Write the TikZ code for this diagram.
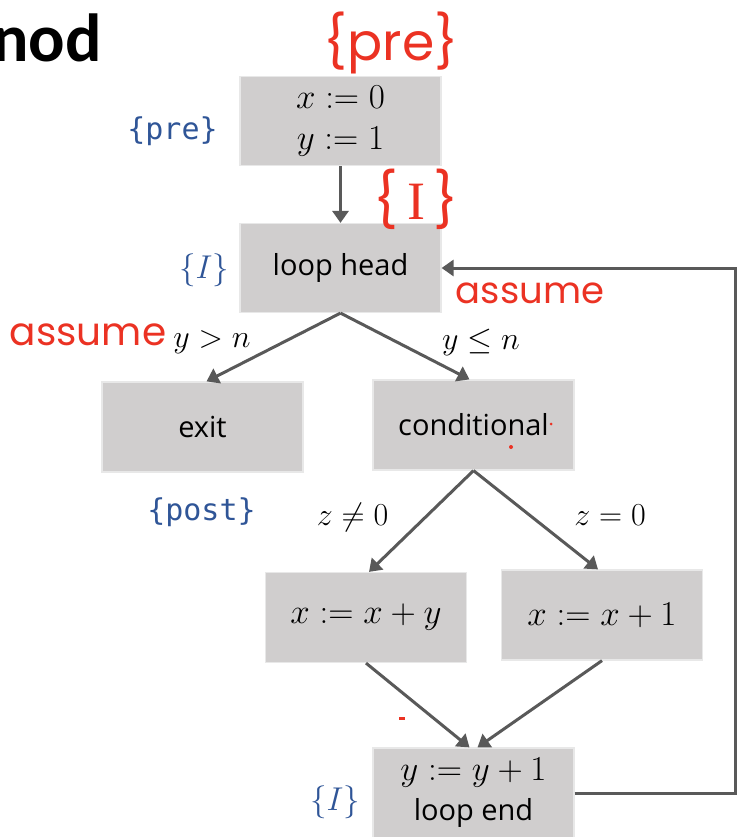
\RequirePackage{fix-cm}
\documentclass[tikz,border=0pt]{standalone}
\usepackage[no-math]{fontspec}
\setmainfont{Open Sans}
\newfontfamily\titlefont{Carlito}
\newfontfamily\monofont{DejaVu Sans Mono}
\newfontfamily\handfont{Poppins}
\newfontfamily\handserif{Liberation Serif}
\usetikzlibrary{arrows.meta,calc}
\definecolor{boxgray}{RGB}{208,206,206}
\definecolor{boxedge}{RGB}{232,232,232}
\definecolor{arrowgray}{RGB}{89,89,89}
\definecolor{annblue}{RGB}{47,85,151}
\definecolor{inkred}{RGB}{235,50,35}
\begin{document}
\begin{tikzpicture}[x=1pt,y=-1pt,
  blk/.style={fill=boxgray, draw=boxedge, line width=1.2pt, minimum width=201pt,
    minimum height=89pt, inner sep=0pt, align=center,
    font=\fontsize{29}{40}\selectfont},
  flow/.style={draw=arrowgray, line width=3pt, line join=miter,
    -{Triangle[length=12pt,width=16pt]}},
  mlabel/.style={inner sep=0pt, font=\fontsize{32}{38}\selectfont},
  bluelbl/.style={inner sep=0pt, text=annblue, font=\fontsize{33}{38}\selectfont},
  bluemono/.style={inner sep=0pt, text=annblue, font=\monofont\fontsize{30}{36}\selectfont},
  ink/.style={inner sep=0pt, text=inkred},
]
\useasboundingbox (0,0) rectangle (737,837);

% title fragment
\node[anchor=base east, inner sep=0pt, font=\titlefont\bfseries\fontsize{68}{80}\selectfont] (title) at (102,62) {nod};

% boxes
\node[blk, font=\fontsize{35}{41}\selectfont] (init) at (340.5,121) {$x \mathrel{:}= 0$\\$y \mathrel{:}= 1$};
\node[blk] (lh) at (340.5,268) {loop head};
\node[blk, minimum height=90pt] (exit) at (202.5,427) {exit};
\node[blk, minimum height=90pt] (cond) at (473.5,425) {conditional};
\node[blk, minimum height=90pt, font=\fontsize{35}{40}\selectfont] (xy) at (366,617.5) {$x \mathrel{:}= x + y$};
\node[blk, minimum height=90pt, font=\fontsize{35}{40}\selectfont] (x1) at (602,615) {$x \mathrel{:}= x + 1$};
\node[blk, minimum height=90pt, font=\fontsize{29}{40}\selectfont] (le) at (473.5,793) {\fontsize{35}{40}\selectfont$y \mathrel{:}= y + 1$\\loop end};

% connectors
\draw[flow] (init.south) -- (lh.north);
\draw[flow] (lh.south) -- ($(exit.north)+(4,0)$);
\draw[flow] (lh.south) -- ($(cond.north)+(-4,0)$);
\draw[flow] (cond.south) -- ($(xy.north)+(3,0)$);
\draw[flow] (cond.south) -- ($(x1.north)+(-4,0)$);
\draw[flow] (xy.south) -- ($(le.north)+(-4,0)$);
\draw[flow] (x1.south) -- ($(le.north)+(4,0)$);
\coordinate (rb) at (735,793);
\coordinate (rt) at (735,268);
\draw[flow] (le.east) -- (rb) -- (rt) -- (lh.east);

% edge labels
\node[mlabel] (l1) at (212,342) {$y > n$};
\node[mlabel] (l2) at (481,342) {$y \leq n$};
\node[mlabel] (l3) at (352.5,517) {$z \neq 0$};
\node[mlabel] (l4) at (610,515) {$z = 0$};

% blue annotations
\node[bluemono] (pre) at (172.5,131) {\{pre\}};
\node[bluemono] (post) at (201.5,512) {\{post\}};
\node[bluelbl] (inv1) at (204,270) {$\{I\}$};
\node[bluelbl] (inv2) at (335,802) {$\{I\}$};

% red handwritten annotations
\node[ink, font=\handfont\fontsize{52}{60}\selectfont] (hpre) at (391,43) {\{pre\}};
\node[ink, font=\handfont\fontsize{54}{60}\selectfont] (hinv) at (416,199) {\{\,{\handserif I}\,\}};
\node[ink, font=\handfont\fontsize{37}{40}\selectfont] (ha1) at (530,293) {assume};
\node[ink, font=\handfont\fontsize{39}{44}\selectfont] (ha2) at (88,335) {assume};
\fill[inkred] (551,424) circle (1.5);
\fill[inkred] (511,447) circle (2);
\fill[inkred] (399,717) rectangle (405,719.5);
\end{tikzpicture}
\end{document}
